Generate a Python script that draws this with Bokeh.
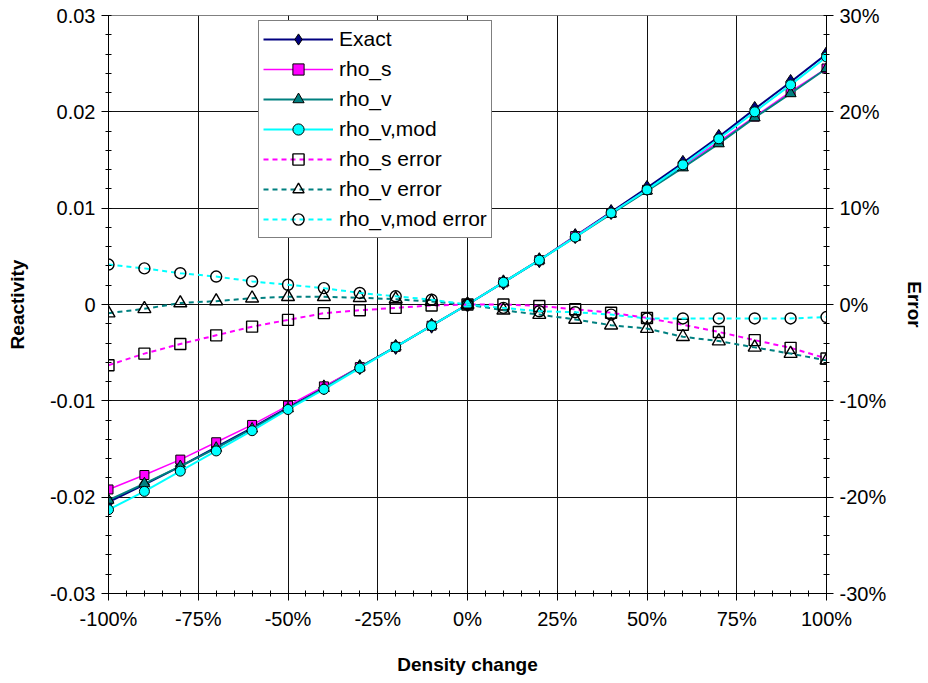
from bokeh.plotting import figure
from bokeh.models import (Range1d, LinearAxis, FixedTicker, CustomJSTickFormatter,
                          Legend, LegendItem)
from bokeh.embed import file_html
from bokeh.resources import INLINE

density = [-100, -90, -80, -70, -60, -50, -40, -30, -20, -10, 0,
           10, 20, 30, 40, 50, 60, 70, 80, 90, 100]
exact = [-0.0205, -0.0187, -0.0168, -0.0148, -0.0128, -0.0107, -0.0086, -0.0065, -0.0044, -0.0022, 0.0,
         0.0023, 0.0046, 0.0071, 0.0096, 0.0121, 0.0147, 0.0174, 0.0203, 0.0231, 0.0260]
rho_s = [-0.0192, -0.0177, -0.0161, -0.0143, -0.0125, -0.0105, -0.0085, -0.0065, -0.0044, -0.0022, 0.0,
         0.0023, 0.0046, 0.0071, 0.0095, 0.0119, 0.0144, 0.0169, 0.0195, 0.0221, 0.0245]
rho_v = [-0.0203, -0.0186, -0.0168, -0.0149, -0.0129, -0.0108, -0.0087, -0.0065, -0.0044, -0.0022, 0.0,
         0.0023, 0.0046, 0.0070, 0.0094, 0.0118, 0.0142, 0.0167, 0.0194, 0.0219, 0.0245]
rho_v_mod = [-0.0213, -0.0194, -0.0173, -0.0152, -0.0131, -0.0109, -0.0088, -0.0066, -0.0044, -0.0022, 0.0,
             0.0023, 0.0046, 0.0070, 0.0095, 0.0119, 0.0145, 0.0172, 0.0200, 0.0228, 0.0257]
rho_s_err = [-6.3, -5.1, -4.1, -3.2, -2.3, -1.6, -0.9, -0.6, -0.35, -0.1, 0.0,
             0.0, -0.15, -0.5, -0.85, -1.4, -2.1, -2.85, -3.7, -4.5, -5.6]
rho_v_err = [-0.9, -0.45, 0.15, 0.35, 0.65, 0.8, 0.8, 0.7, 0.55, 0.3, 0.0,
             -0.6, -1.05, -1.55, -2.15, -2.5, -3.35, -3.8, -4.45, -5.1, -5.8]
rho_v_mod_err = [4.15, 3.75, 3.25, 2.9, 2.4, 2.05, 1.7, 1.2, 0.85, 0.5, 0.0,
                 -0.35, -0.7, -0.8, -1.05, -1.45, -1.45, -1.45, -1.45, -1.45, -1.3]

x_ticks = [-100, -75, -50, -25, 0, 25, 50, 75, 100]
x_tick_labels = ["-100%", "-75%", "-50%", "-25%", "0%", "25%", "50%", "75%", "100%"]
y_ticks = [-0.03, -0.02, -0.01, 0.0, 0.01, 0.02, 0.03]
y_tick_labels = ["-0.03", "-0.02", "-0.01", "0", "0.01", "0.02", "0.03"]
err_ticks = [-30, -20, -10, 0, 10, 20, 30]
err_tick_labels = ["-30%", "-20%", "-10%", "0%", "10%", "20%", "30%"]

FONT = "Liberation Sans"
TICK_FS = "20px"

def lookup_fmt(ticks, labels):
    return CustomJSTickFormatter(args=dict(t=ticks, l=labels), code="""
        let b = 0;
        for (let i = 0; i < t.length; i++) {
            if (Math.abs(t[i] - tick) < Math.abs(t[b] - tick)) b = i;
        }
        return l[b];
    """)

p = figure(width=928, height=683, output_backend="svg", toolbar_location=None,
           x_range=Range1d(-100, 100), y_range=Range1d(-0.03, 0.03),
           min_border_left=108, min_border_right=100, min_border_top=15, min_border_bottom=90)
p.extra_y_ranges = {"err": Range1d(-30, 30)}
p.background_fill_color = "white"
p.border_fill_color = "white"
p.outline_line_color = "#808080"
p.outline_line_width = 1

# axes
xa = p.xaxis[0]
xa.ticker = FixedTicker(ticks=x_ticks, minor_ticks=[v for v in range(-100, 101, 5)])
xa.formatter = lookup_fmt(x_ticks, x_tick_labels)
xa.axis_label = "Density change"

ya = p.yaxis[0]
ya.ticker = FixedTicker(ticks=y_ticks, minor_ticks=[round(-0.03 + 0.002 * i, 4) for i in range(31)])
ya.formatter = lookup_fmt(y_ticks, y_tick_labels)
ya.axis_label = "Reactivity"

ra = LinearAxis(y_range_name="err", axis_label="Error")
ra.ticker = FixedTicker(ticks=err_ticks, minor_ticks=[v for v in range(-30, 31, 2)])
ra.formatter = lookup_fmt(err_ticks, err_tick_labels)
p.add_layout(ra, "right")

for ax in (xa, ya, ra):
    ax.axis_line_color = "black"
    ax.axis_line_width = 1
    ax.major_tick_line_color = "black"
    ax.minor_tick_line_color = "black"
    ax.major_tick_in = 0
    ax.major_tick_out = 7
    ax.minor_tick_in = 3
    ax.minor_tick_out = 3
    ax.major_label_text_font = FONT
    ax.major_label_text_font_size = TICK_FS
    ax.major_label_text_color = "black"
    ax.axis_label_text_font = FONT
    ax.axis_label_text_font_size = "19px"
    ax.axis_label_text_font_style = "bold"
    ax.axis_label_text_color = "black"
xa.major_label_standoff = 7
xa.axis_label_standoff = 21
ya.major_label_standoff = 6
ya.axis_label_standoff = 19
ra.major_label_standoff = 6
ra.axis_label_standoff = 15

p.xgrid.ticker = FixedTicker(ticks=x_ticks)
p.ygrid.ticker = FixedTicker(ticks=y_ticks)
for g in (p.xgrid, p.ygrid):
    g.grid_line_color = "#111111"
    g.grid_line_width = 1

# reactivity series
l1 = p.line(density, exact, line_color="#000080", line_width=2)
m1 = p.scatter(density, exact, marker="diamond", size=15, fill_color="#000080", line_color="black", line_width=1)
l2 = p.line(density, rho_s, line_color="#FF00FF", line_width=1.5)
m2 = p.scatter(density, rho_s, marker="square", size=9, fill_color="#FF00FF", line_color="black", line_width=1)
l3 = p.line(density, rho_v, line_color="#008080", line_width=2)
m3 = p.scatter(density, rho_v, marker="triangle", size=11, fill_color="#008080", line_color="black", line_width=1)
l4 = p.line(density, rho_v_mod, line_color="#00FFFF", line_width=2)
m4 = p.scatter(density, rho_v_mod, marker="circle", size=10, fill_color="#00FFFF", line_color="black", line_width=1)

# error series (secondary axis)
l5 = p.line(density, rho_s_err, y_range_name="err", line_color="#FF00FF", line_width=2, line_dash="5 4")
m5 = p.scatter(density, rho_s_err, y_range_name="err", marker="square", size=11,
               fill_color=None, line_color="black", line_width=1.4)
l6 = p.line(density, rho_v_err, y_range_name="err", line_color="#008080", line_width=2, line_dash="5 4")
m6 = p.scatter(density, rho_v_err, y_range_name="err", marker="triangle", size=13,
               fill_color=None, line_color="black", line_width=1.4)
l7 = p.line(density, rho_v_mod_err, y_range_name="err", line_color="#00FFFF", line_width=2, line_dash="5 4")
m7 = p.scatter(density, rho_v_mod_err, y_range_name="err", marker="circle", size=11,
               fill_color=None, line_color="black", line_width=1.4)

legend = Legend(items=[
    LegendItem(label="Exact", renderers=[l1, m1]),
    LegendItem(label="rho_s", renderers=[l2, m2]),
    LegendItem(label="rho_v", renderers=[l3, m3]),
    LegendItem(label="rho_v,mod", renderers=[l4, m4]),
    LegendItem(label="rho_s error", renderers=[l5, m5]),
    LegendItem(label="rho_v error", renderers=[l6, m6]),
    LegendItem(label="rho_v,mod error", renderers=[l7, m7]),
], location=(150, 355))
legend.label_text_font = FONT
legend.label_text_font_size = "21px"
legend.label_text_color = "black"
legend.glyph_width = 70
legend.glyph_height = 28
legend.label_height = 28
legend.spacing = 2
legend.padding = 4
legend.margin = 0
legend.label_standoff = 6
legend.border_line_color = "black"
legend.border_line_width = 1
legend.background_fill_color = "white"
legend.background_fill_alpha = 1.0
p.add_layout(legend)

open("out.html", "w").write(file_html(p, INLINE))
